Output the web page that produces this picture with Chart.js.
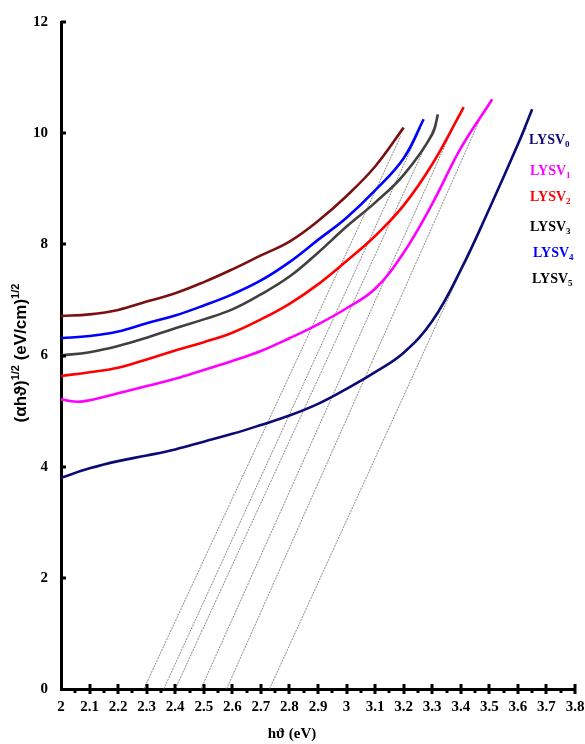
<!DOCTYPE html>
<html>
<head>
<meta charset="utf-8">
<title>Tauc plot - LYSV samples</title>
<script src="https://cdn.jsdelivr.net/npm/chart.js@4.4.1/dist/chart.umd.min.js"></script>
<style>
  html, body { margin: 0; padding: 0; background: #fff; }
  #taucChart { display: block; }
</style>
</head>
<body>
<canvas id="taucChart" width="585" height="744"></canvas>
<script>
// sample names, colours of the curves and of the legend text
const sampleNames = ['LYSV0', 'LYSV1', 'LYSV2', 'LYSV3', 'LYSV4', 'LYSV5'];
const curveColors = ['#0b0b76', '#ff00ff', '#ff0000', '#404040', '#0000ff', '#7a1010'];
const legendColors = ['#0b0b76', '#ff00ff', '#ff0000', '#000000', '#0000ff', '#000000'];

// hϑ (eV) and (αhϑ)^1/2
const energy0 = [2.0, 2.1, 2.2, 2.3, 2.4, 2.5, 2.6, 2.7, 2.8, 2.9, 3.0, 3.1, 3.2, 3.3, 3.4, 3.5, 3.6, 3.65];
const alpha0  = [3.80, 3.97, 4.10, 4.20, 4.31, 4.45, 4.59, 4.75, 4.92, 5.13, 5.40, 5.70, 6.05, 6.62, 7.54, 8.64, 9.80, 10.43];

const energy1 = [2.0, 2.07, 2.2, 2.3, 2.4, 2.5, 2.6, 2.7, 2.8, 2.9, 3.0, 3.1, 3.2, 3.3, 3.4, 3.5, 3.51];
const alpha1  = [5.21, 5.17, 5.32, 5.45, 5.58, 5.74, 5.90, 6.08, 6.31, 6.56, 6.85, 7.20, 7.85, 8.73, 9.73, 10.53, 10.61];

const energy2 = [2.0, 2.1, 2.2, 2.3, 2.4, 2.5, 2.6, 2.7, 2.8, 2.9, 3.0, 3.1, 3.2, 3.3, 3.4, 3.41];
const alpha2  = [5.63, 5.70, 5.78, 5.93, 6.09, 6.24, 6.41, 6.65, 6.93, 7.28, 7.70, 8.15, 8.70, 9.44, 10.37, 10.47];

const energy3 = [2.0, 2.1, 2.2, 2.3, 2.4, 2.5, 2.6, 2.7, 2.8, 2.9, 3.0, 3.1, 3.2, 3.3, 3.32];
const alpha3  = [6.00, 6.06, 6.17, 6.32, 6.49, 6.65, 6.83, 7.10, 7.42, 7.85, 8.32, 8.75, 9.25, 9.98, 10.34];

const energy4 = [2.0, 2.1, 2.2, 2.3, 2.4, 2.5, 2.6, 2.7, 2.8, 2.9, 3.0, 3.1, 3.2, 3.27];
const alpha4  = [6.31, 6.35, 6.43, 6.58, 6.72, 6.90, 7.10, 7.35, 7.68, 8.08, 8.48, 8.97, 9.55, 10.25];

const energy5 = [2.0, 2.1, 2.2, 2.3, 2.4, 2.5, 2.6, 2.7, 2.8, 2.9, 3.0, 3.1, 3.20];
const alpha5  = [6.71, 6.74, 6.82, 6.97, 7.12, 7.32, 7.55, 7.80, 8.05, 8.42, 8.87, 9.40, 10.10];

// straight-line fits: x-intercept (band gap) and the upper end of each line
const fitGap  = [2.73, 2.58, 2.49, 2.40, 2.36, 2.29];
const fitTopX = [3.63, 3.48, 3.39, 3.31, 3.26, 3.19];
const fitTopY = [10.10, 10.40, 10.30, 10.15, 10.10, 9.95];

const xTicks = { min: 2, max: 3.8, step: 0.1 };
const yTicks = { min: 0, max: 12, step: 2 };

const energies = [energy0, energy1, energy2, energy3, energy4, energy5];
const alphas = [alpha0, alpha1, alpha2, alpha3, alpha4, alpha5];

const serif = '"Liberation Serif", "Times New Roman", serif';
const sans = '"Liberation Sans", Arial, sans-serif';

function toPoints(xs, ys) {
    return xs.map((x, i) => ({ x: x, y: ys[i] }));
}

const datasets = [];

sampleNames.forEach((name, i) => {
    datasets.push({
        label: name,
        data: toPoints(energies[i], alphas[i]),
        borderColor: curveColors[i],
        borderWidth: 2.6,
        pointRadius: 0,
        fill: false,
        tension: 0.4,
        order: 1
    });
});

fitGap.forEach((gap, i) => {
    datasets.push({
        label: 'fit ' + sampleNames[i],
        data: [{ x: gap, y: 0 }, { x: fitTopX[i], y: fitTopY[i] }],
        borderColor: '#6a6a6a',
        borderWidth: 0.8,
        borderDash: [2, 1],
        pointRadius: 0,
        fill: false,
        order: 2
    });
});

// tick marks: inward on y, crossing on x with minor ticks in between
const tickMarks = {
    id: 'tickMarks',
    afterDraw(chart) {
        const ctx = chart.ctx;
        const x = chart.scales.x;
        const y = chart.scales.y;
        const area = chart.chartArea;
        ctx.save();
        ctx.strokeStyle = '#000';
        ctx.lineWidth = 3;
        ctx.beginPath();
        for (let v = yTicks.min + yTicks.step; v <= yTicks.max + 1e-9; v += yTicks.step) {
            const py = Math.round(y.getPixelForValue(v));
            ctx.moveTo(area.left, py);
            ctx.lineTo(area.left + 5, py);
        }
        const n = Math.round((xTicks.max - xTicks.min) / xTicks.step);
        for (let k = 1; k <= n; k++) {
            const px = Math.round(x.getPixelForValue(xTicks.min + k * xTicks.step));
            ctx.moveTo(px, area.bottom - 5);
            ctx.lineTo(px, area.bottom + 5);
        }
        for (let k = 0; k < n; k++) {
            const px = Math.round(x.getPixelForValue(xTicks.min + (k + 0.5) * xTicks.step));
            ctx.moveTo(px, area.bottom);
            ctx.lineTo(px, area.bottom + 4);
        }
        ctx.stroke();
        ctx.restore();
    }
};

// axis titles and legend, with super/subscripts
const labels = {
    id: 'labels',
    afterDraw(chart) {
        const ctx = chart.ctx;
        ctx.save();
        ctx.fillStyle = '#000';

        // y title, rotated
        const parts = [
            { t: '(\u03b1h\u03d1)', sup: false },
            { t: '1/2', sup: true },
            { t: ' (eV/cm)', sup: false },
            { t: '1/2', sup: true }
        ];
        const big = 'bold 17px ' + sans;
        const small = 'bold 11px ' + sans;
        let total = 0;
        parts.forEach(p => {
            ctx.font = p.sup ? small : big;
            p.w = ctx.measureText(p.t).width;
            total += p.w;
        });
        ctx.translate(26, 353);
        ctx.rotate(-Math.PI / 2);
        ctx.textBaseline = 'alphabetic';
        ctx.textAlign = 'left';
        let cx = -total / 2;
        parts.forEach(p => {
            ctx.font = p.sup ? small : big;
            ctx.fillText(p.t, cx, p.sup ? -7 : 0);
            cx += p.w;
        });
        ctx.setTransform(1, 0, 0, 1, 0, 0);

        // x title
        ctx.font = 'bold 15px ' + serif;
        ctx.textAlign = 'center';
        ctx.fillText('h\u03d1 (eV)', 292, 738);

        // legend
        const spots = [[529, 144], [530, 175], [530, 201], [530, 231], [533, 257], [532, 283]];
        ctx.textAlign = 'left';
        sampleNames.forEach((name, i) => {
            const base = name.slice(0, -1);
            const sub = name.slice(-1);
            ctx.fillStyle = legendColors[i];
            ctx.font = 'bold 14px ' + serif;
            ctx.fillText(base, spots[i][0], spots[i][1]);
            const w = ctx.measureText(base).width;
            ctx.font = 'bold 9px ' + serif;
            ctx.fillText(sub, spots[i][0] + w, spots[i][1] + 3);
        });
        ctx.restore();
    }
};

new Chart(document.getElementById('taucChart'), {
    type: 'line',
    data: { datasets: datasets },
    options: {
        responsive: false,
        animation: false,
        layout: { padding: { top: 14, right: 0, left: 0, bottom: 0 } },
        plugins: {
            legend: { display: false },
            tooltip: { enabled: false }
        },
        scales: {
            x: {
                type: 'linear',
                min: xTicks.min,
                max: xTicks.max,
                grid: { display: false, drawTicks: false },
                border: { display: true, color: '#000', width: 3 },
                ticks: {
                    stepSize: xTicks.step,
                    autoSkip: false,
                    maxRotation: 0,
                    padding: 9,
                    color: '#000',
                    font: { family: serif, size: 15, weight: 'bold' },
                    callback: v => String(Number(v.toFixed(1)))
                },
                afterFit: scale => {
                    scale.height = 55;
                    scale.paddingRight = 10;
                    scale.paddingLeft = 0;
                }
            },
            y: {
                type: 'linear',
                min: yTicks.min,
                max: yTicks.max,
                grid: { display: false, drawTicks: false },
                border: { display: true, color: '#000', width: 3 },
                ticks: {
                    stepSize: yTicks.step,
                    padding: 13,
                    color: '#000',
                    font: { family: serif, size: 15, weight: 'bold' }
                },
                afterFit: scale => { scale.width = 61; }
            }
        }
    },
    plugins: [tickMarks, labels]
});
</script>
</body>
</html>
